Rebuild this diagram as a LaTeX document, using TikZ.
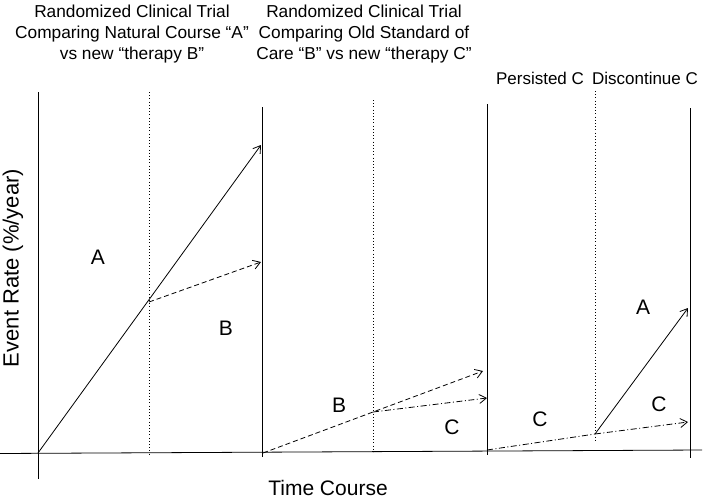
\documentclass[tikz,border=0pt]{standalone}
\usepackage{fontspec}
\setmainfont{Liberation Sans}
\usetikzlibrary{arrows.meta}
\begin{document}
\begin{tikzpicture}[x=1pt,y=-1pt,
  ln/.style={line width=0.8pt},
  dotln/.style={line width=0.8pt,dash pattern=on 0.8pt off 2.4pt},
  dashln/.style={line width=0.8pt,dash pattern=on 5pt off 3pt},
  dashdotln/.style={line width=0.8pt,dash pattern=on 6pt off 2.5pt on 1pt off 2.5pt},
  tip/.style={-{Straight Barb[length=7pt,width=9pt,line width=0.8pt]}},
  lbl/.style={font=\fontsize{21}{21}\selectfont,inner sep=0pt},
  ttl/.style={font=\fontsize{17.3}{21}\selectfont,align=center,inner sep=0pt},
  hdr/.style={font=\fontsize{17}{20}\selectfont,inner sep=0pt}]
\useasboundingbox (0,0) rectangle (709,503);
% coordinates
\coordinate (axL) at (0,453.5);
\coordinate (axR) at (702,450);
\coordinate (v1t) at (38,92);   \coordinate (v1b) at (38,479);
\coordinate (v2t) at (262,107); \coordinate (v2b) at (262,457);
\coordinate (v3t) at (487,104); \coordinate (v3b) at (487,455);
\coordinate (v4t) at (690,108); \coordinate (v4b) at (690,458);
\coordinate (d1t) at (149,92);  \coordinate (d1b) at (149,455);
\coordinate (d2t) at (373,100); \coordinate (d2b) at (373,452);
\coordinate (d3t) at (595,91);  \coordinate (d3b) at (595,440);
\coordinate (o1) at (38,453);
\coordinate (e1) at (261,145);
\coordinate (j1) at (149,302);
\coordinate (e2) at (261,262);
\coordinate (o2) at (263,453);
\coordinate (j2) at (373,412);
\coordinate (e3) at (483,371);
\coordinate (e4) at (487,398);
\coordinate (o3) at (487,450);
\coordinate (j3) at (595,434);
\coordinate (e5) at (688,422);
\coordinate (e6) at (688,308);
% axes and separators
\draw[ln] (axL) -- (axR);
\draw[ln] (v1t) -- (v1b);
\draw[ln] (v2t) -- (v2b);
\draw[ln] (v3t) -- (v3b);
\draw[ln] (v4t) -- (v4b);
\draw[dotln] (d1t) -- (d1b);
\draw[dotln] (d2t) -- (d2b);
\draw[dotln] (d3t) -- (d3b);
% trajectories
\draw[ln,tip] (o1) -- (e1);
\draw[dashln,tip] (j1) -- (e2);
\draw[dashln,tip] (o2) -- (e3);
\draw[dashdotln,tip] (j2) -- (e4);
\draw[dashdotln] (o3) -- (j3);
\draw[dashdotln,tip] (j3) -- (e5);
\draw[ln,tip] (j3) -- (e6);
% labels
\node[lbl] (lA1) at (98,257) {A};
\node[lbl] (lB1) at (226,328) {B};
\node[lbl] (lB2) at (339,405) {B};
\node[lbl] (lC1) at (452,427) {C};
\node[lbl] (lC2) at (540,419) {C};
\node[lbl] (lA2) at (643,307) {A};
\node[lbl] (lC3) at (659,404) {C};
% titles
\node[ttl] (t1) at (132,34) {Randomized Clinical Trial\\Comparing Natural Course “A”\\vs new “therapy B”};
\node[ttl] (t2) at (364,34) {Randomized Clinical Trial\\Comparing Old Standard of\\Care “B” vs new “therapy C”};
\node[hdr] (t3) at (540,78) {Persisted C};
\node[hdr] (t4) at (645,78) {Discontinue C};
\node[lbl,font=\fontsize{22}{22}\selectfont,rotate=90] (ylab) at (13,268) {Event Rate (\%/year)};
\node[lbl] (xlab) at (328,488) {Time Course};
\end{tikzpicture}
\end{document}
